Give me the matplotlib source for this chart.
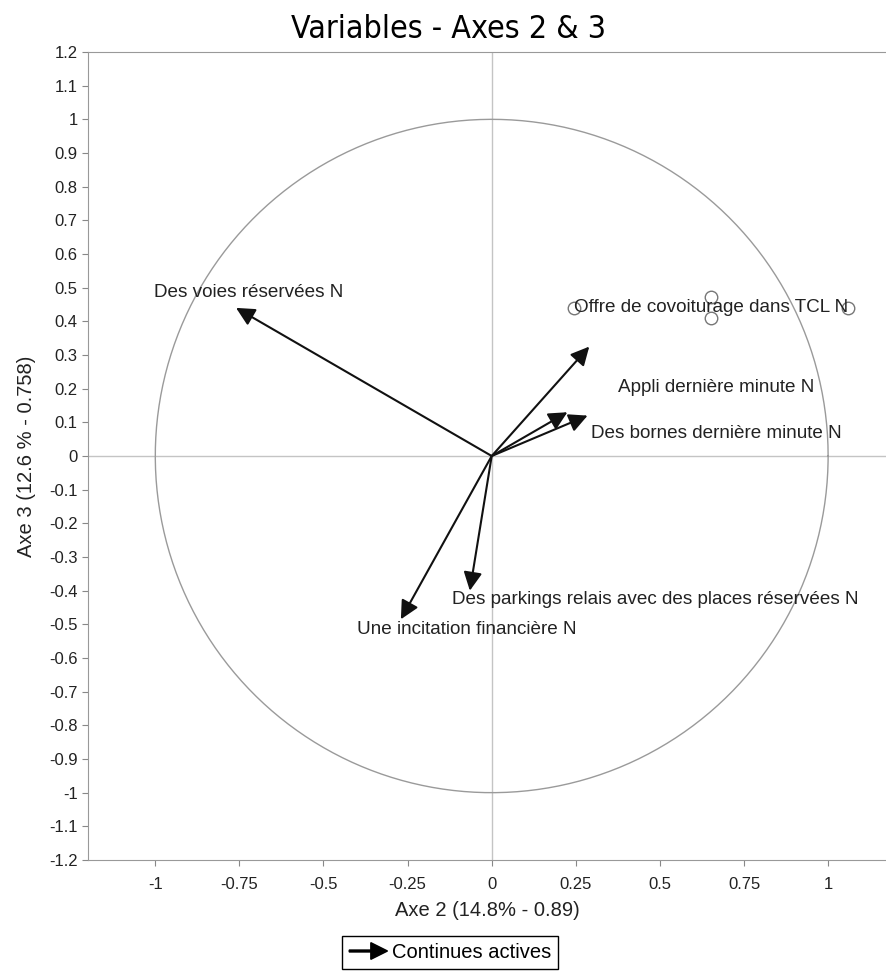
import numpy as np
import matplotlib
matplotlib.use("Agg")
import matplotlib.pyplot as plt
import matplotlib.patches as mpatches
from matplotlib.legend_handler import HandlerPatch

plt.rcParams['font.family'] = ['Liberation Sans', 'DejaVu Sans']
plt.rcParams['axes.unicode_minus'] = False

# coordinates of the active variables on axes 2 and 3
var_names = [
    "Des voies réservées N",
    "Offre de covoiturage dans TCL N",
    "Appli dernière minute N",
    "Des bornes dernière minute N",
    "Des parkings relais avec des places réservées N",
    "Une incitation financière N",
]
axe2 = [-0.76, 0.29, 0.225, 0.285, -0.065, -0.27]
axe3 = [0.44, 0.325, 0.13, 0.12, -0.40, -0.485]

# where each label sits (left edge, vertical centre)
label_x = [-1.005, 0.245, 0.374, 0.294, -0.119, -0.40]
label_y = [0.487, 0.441, 0.202, 0.068, -0.425, -0.514]

ticks = [-1, -0.75, -0.5, -0.25, 0, 0.25, 0.5, 0.75, 1]
yticks = np.round(np.arange(-1.2, 1.21, 0.1), 1)

fig = plt.figure(figsize=(8.87, 9.71), dpi=100)
ax = fig.add_axes([88/887, 1 - 860/971, (887-88)/887, (860-52)/971])

ax.set_xlim(-1.2, 1.175)
ax.set_ylim(-1.2, 1.2)

ax.axhline(0, color='#c4c4c4', lw=1, zorder=1)
ax.axvline(0, color='#c4c4c4', lw=1, zorder=1)
t = np.linspace(0, 2*np.pi, 400)
ax.plot(np.cos(t), np.sin(t), color='#9a9a9a', lw=1, zorder=1)

for name, x, y, lx, ly in zip(var_names, axe2, axe3, label_x, label_y):
    ax.annotate("", xy=(x, y), xytext=(0, 0),
                arrowprops=dict(arrowstyle='-|>', color='#111111', lw=1.5,
                                mutation_scale=28, shrinkA=0, shrinkB=0))
    txt = ax.text(lx, ly, name, fontsize=13.6, ha='left', va='center', color='#222222')
    if name.startswith("Offre"):
        offre_txt = txt

# little open circles around the cluttered label
fig.canvas.draw()
bb = offre_txt.get_window_extent().transformed(ax.transData.inverted())
cx, cy = (bb.x0 + bb.x1) / 2, (bb.y0 + bb.y1) / 2
half_h = (bb.y1 - bb.y0) / 2 * 1.25
ax.plot([bb.x0, cx, cx, bb.x1], [cy, cy + half_h, cy - half_h, cy], 'o',
        mfc='white', mec='#777777', ms=9, mew=1, zorder=2)

ax.set_xticks(ticks)
ax.set_xticklabels([f"{v:g}" for v in ticks])
ax.set_yticks(yticks)
ax.set_yticklabels([f"{v:g}" for v in yticks])
ax.tick_params(direction='out', length=4, color='#888888', labelsize=12,
               labelcolor='#222222')
ax.tick_params(axis='x', pad=8)
for s in ['left', 'bottom', 'top']:
    ax.spines[s].set_color('#999999')
ax.spines['right'].set_visible(False)

ax.set_xlabel("Axe 2 (14.8% - 0.89)", fontsize=14.5, color='#222222', labelpad=7)
ax.set_ylabel("Axe 3 (12.6 % - 0.758)", fontsize=14.5, color='#222222', labelpad=9)
fig.text(449/887, 1 - 29/971, "Variables - Axes 2 & 3", ha='center', va='center',
         fontsize=23, fontstretch='condensed',
         family=['DejaVu Sans'])


class HandlerArrow(HandlerPatch):
    def create_artists(self, legend, orig_handle, xdescent, ydescent,
                       width, height, fontsize, trans):
        p = mpatches.FancyArrow(-xdescent, height/2 - ydescent, width, 0,
                                width=1.4, head_width=12, head_length=12,
                                length_includes_head=True, color='black')
        p.set_transform(trans)
        return [p]


handle = mpatches.FancyArrow(0, 0, 1, 0)
leg = fig.legend([handle], ["Continues actives"], loc='upper center',
                 bbox_to_anchor=(450/887, 1 - 936/971), fontsize=14.5,
                 handler_map={mpatches.FancyArrow: HandlerArrow()},
                 fancybox=False, framealpha=1, edgecolor='black',
                 handlelength=1.9, handletextpad=0.2, borderpad=0.35,
                 borderaxespad=0)

fig.savefig("out.png", dpi=100)
